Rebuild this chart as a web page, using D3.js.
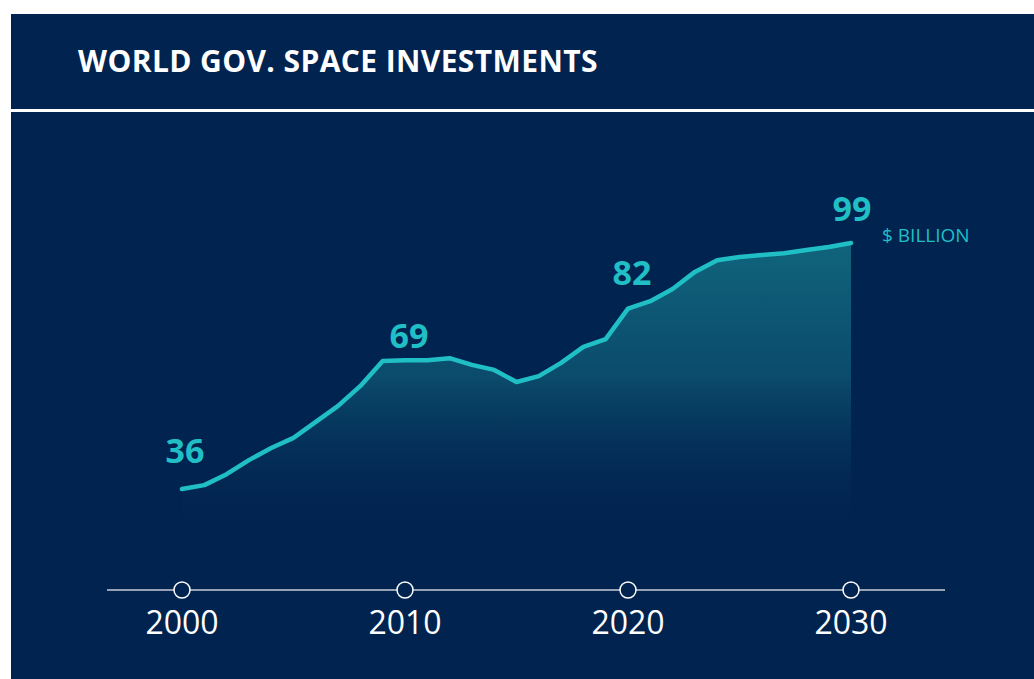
<!DOCTYPE html>
<html>
<head>
<meta charset="utf-8">
<script src="https://cdn.jsdelivr.net/npm/d3@7"></script>
<style>
	body{margin:0;background:#fff;}
	svg{display:block;font-family:"Open Sans","Noto Sans",sans-serif;}
</style>
</head>
<body>
<svg id="chart"></svg>
<script>
// data ($ billion, world government space budgets)
const years = d3.range(2000, 2031);
const values = [36, 37.0, 39.8, 43.4, 46.5, 49.1, 53.2, 57.3, 62.4, 68.8,
	69, 69, 69.5, 67.8, 66.5, 63.4, 64.9, 68.3, 72.4, 74.4,
	82.2, 84.1, 87.2, 91.6, 94.6, 95.4, 95.9, 96.4, 97.2, 98.0, 99];
const labelYears = [2000, 2010, 2020, 2030];
const labelValues = [36, 69, 82, 99];
const tickYears = [2000, 2010, 2020, 2030];
const titleText = 'WORLD GOV. SPACE INVESTMENTS';
const unitText = '$ BILLION';

const W = 1034, H = 679;
const navy = '#01234f';
const teal = '#20bfc5';

const svg = d3.select('#chart')
	.attr('width', W)
	.attr('height', H);

// panels
svg.append('rect')
	.attr('x', 11).attr('y', 14)
	.attr('width', W - 11).attr('height', 95)
	.attr('fill', navy);
svg.append('rect')
	.attr('x', 11).attr('y', 112)
	.attr('width', W - 11).attr('height', H - 112)
	.attr('fill', navy);

svg.append('text')
	.attr('x', 78)
	.attr('y', 72)
	.attr('fill', '#fff')
	.attr('font-size', 30)
	.attr('font-weight', 700)
	.attr('letter-spacing', 0.4)
	.text(titleText);

const x = d3.scaleLinear()
	.domain([2000, 2030])
	.range([182, 851]);
const y = d3.scaleLinear()
	.domain([0, 100])
	.range([629.6, 239.1]);

const data = years.map((yr, i) => ({year: yr, value: values[i]}));

// gradient under the line
const defs = svg.append('defs');
const grad = defs.append('linearGradient')
	.attr('id', 'areaGrad')
	.attr('gradientUnits', 'userSpaceOnUse')
	.attr('x1', 0).attr('x2', 0)
	.attr('y1', y(99)).attr('y2', 540);
grad.append('stop').attr('offset', 0).attr('stop-color', '#10647c');
grad.append('stop').attr('offset', 0.45).attr('stop-color', '#0b4b6c');
grad.append('stop').attr('offset', 1).attr('stop-color', navy).attr('stop-opacity', 0);

const area = d3.area()
	.x(d => x(d.year))
	.y0(y(0))
	.y1(d => y(d.value));
svg.append('path')
	.datum(data)
	.attr('d', area)
	.attr('fill', 'url(#areaGrad)');

const line = d3.line()
	.x(d => x(d.year))
	.y(d => y(d.value));
svg.append('path')
	.datum(data)
	.attr('d', line)
	.attr('fill', 'none')
	.attr('stroke', teal)
	.attr('stroke-width', 4.5)
	.attr('stroke-linecap', 'round')
	.attr('stroke-linejoin', 'round');

// value callouts
const labelDx = [3, 4, 4, 1];
const labelDy = [-26, -12, -24, -22];
svg.selectAll('text.callout')
	.data(labelYears)
	.join('text')
		.classed('callout', true)
		.attr('x', (d, i) => x(d) + labelDx[i])
		.attr('y', (d, i) => y(labelValues[i]) + labelDy[i])
		.attr('text-anchor', 'middle')
		.attr('fill', teal)
		.attr('font-size', 34)
		.attr('font-weight', 700)
		.text((d, i) => labelValues[i]);

svg.append('text')
	.attr('x', 882)
	.attr('y', y(99) - 1)
	.attr('fill', teal)
	.attr('font-size', 19)
	.text(unitText);

// time axis
const axisY = 590;
svg.append('line')
	.attr('x1', 107).attr('x2', 945)
	.attr('y1', axisY).attr('y2', axisY)
	.attr('stroke', '#c9ccd4')
	.attr('stroke-width', 1.5);

const ticks = svg.selectAll('g.tick')
	.data(tickYears)
	.join('g')
		.classed('tick', true)
		.attr('transform', d => `translate(${x(d)},${axisY})`);
ticks.append('circle')
	.attr('r', 8)
	.attr('fill', navy)
	.attr('stroke', '#fff')
	.attr('stroke-width', 1.5);
ticks.append('text')
	.attr('y', 44)
	.attr('text-anchor', 'middle')
	.attr('fill', '#fff')
	.attr('font-size', 32)
	.text(d => d);
</script>
</body>
</html>
